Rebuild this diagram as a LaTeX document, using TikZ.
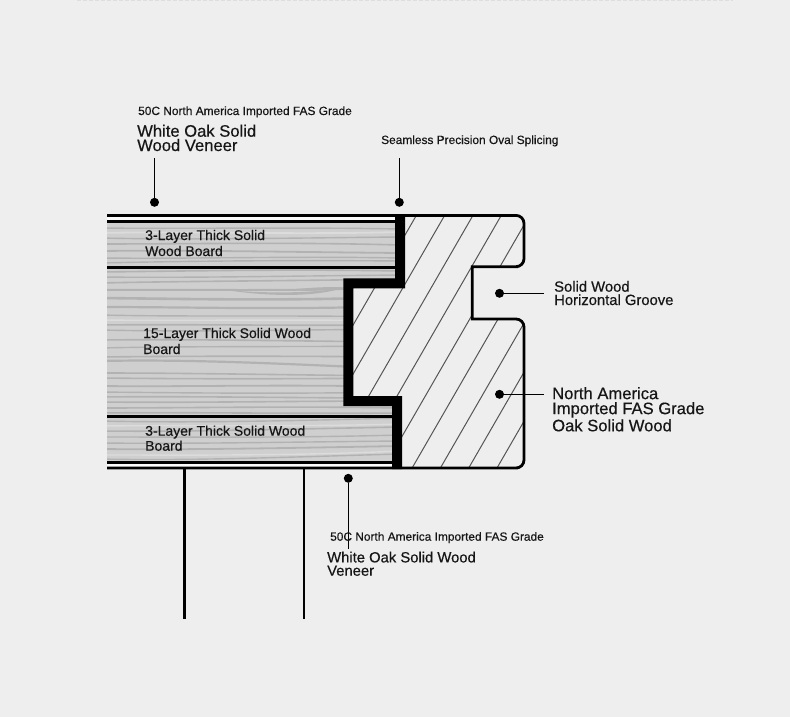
\documentclass[tikz,border=0pt]{standalone}
\usepackage{fontspec}
\setmainfont[FakeBold=0.4]{Liberation Sans}
\definecolor{bgc}{HTML}{EEEEEE}
\definecolor{woodc}{HTML}{CFCFCF}
\definecolor{graind}{HTML}{B2B2B2}
\definecolor{grainl}{HTML}{DCDCDC}
\definecolor{ink}{HTML}{161616}
\definecolor{hatchc}{HTML}{555555}
\tikzset{
  label base/.style={anchor=base west,inner sep=0pt,text=ink,align=left},
  small label/.style={label base,font=\fontsize{11.9}{13}\selectfont},
  mid label/.style={label base,font=\fontsize{14}{16}\selectfont},
  big label/.style={label base,font=\fontsize{16.6}{14.3}\selectfont},
  side label/.style={label base,font=\fontsize{14.8}{13.3}\selectfont},
  dotmark/.style={circle,fill=black,inner sep=0pt,minimum size=9pt},
  leader/.style={draw=black,line width=1pt},
  outline/.style={draw=black,line width=2.8pt},
  layerline/.style={draw=black,line width=3pt},
  hatchline/.style={draw=hatchc,line width=1pt},
}
\newcommand{\grainset}[1]{\foreach \y/\a/\b/\e/\w/\c in {#1}{%
  \draw[draw=\c,line width=\w pt] (100,\y) .. controls (190,\y+\a) and (290,\y+\b) .. (400,\y+\e);}}
\begin{document}
\begin{tikzpicture}[x=1pt,y=-1pt]
\useasboundingbox (0,0) rectangle (790,717);
\fill[bgc] (0,0) rectangle (790,717);
\draw[draw=black!13,line width=1.5pt,dash pattern=on 4pt off 2pt] (77,0.5) -- (733,0.5);
% gaps
\fill[white!70!bgc] (107,216) rectangle (396,221);
\fill[white!70!bgc] (107,463) rectangle (393,467);
% wood
\begin{scope}
\clip (107,222) -- (395,222) -- (395,279) -- (344,279) -- (344,405) -- (392,405) -- (392,464) -- (107,464) -- cycle;
\fill[woodc] (107,222) rectangle (396,464);
\grainset{228/1/-1/1/1.4/graind, 233/-2/2/-1/1.8/grainl, 238/2/0/-1/1.4/graind, 244/0/-2/1/1.6/graind,
 251/-1/1/2/1.8/graind, 258/1/-2/0/1.4/graind, 263/-2/-3/-2/1.4/graind,
 272/-1/-3/-1/1.6/graind, 277/1/-1/-2/1.4/graind, 283/-2/-2/-4/1.6/graind, 290/-1/2/-3/2/graind,
 298/1/3/-1/2.6/graind, 307/0/3/-1/2.2/graind, 315/2/0/2/1.4/graind,
 320/1/-1/1/1.4/grainl, 325/-1/1/0/1.6/graind, 330/2/0/-1/1.4/graind,
 340/-1/1/2/1.6/graind, 348/-2/-1/-2/1.4/graind, 357/-1/-1/0/1.6/graind, 361/-2/3/8/2.2/graind,
 373/0/2/3/1.6/graind, 378/1/1/0/1.6/graind, 386/1/-2/1/1.8/graind,
 392/1/2/0/1.4/graind, 397/-1/1/1/1.6/graind, 402/1/-1/-1/1.6/graind, 408/0/-2/0/1.6/graind,
 413/-1/1/0/1.6/graind,
 421/2/0/-3/1.4/graind, 426/-1/1/-2/1.4/grainl, 431/1/-2/-4/1.6/graind, 437/0/1/-2/1.4/graind,
 443/1/-1/-2/1.4/graind, 449/1/-1/-3/1.8/graind, 455/0/1/-4/1.4/grainl, 459/2/-2/-5/1.4/graind}
\fill[graind] (226,290) .. controls (270,297) and (320,297) .. (345,287) .. controls (320,293) and (270,294) .. (226,290) -- cycle;
\fill[graind] (292,290) .. controls (310,292) and (330,290) .. (345,287) .. controls (330,287) and (310,287) .. (292,290) -- cycle;
\end{scope}
% hatching
\begin{scope}
\clip (405,216) -- (510,216) [rounded corners=8pt] -- (524,216) -- (524,267) -- (510,267) [sharp corners] -- (472.3,267) -- (472.3,319) -- (510,319) [rounded corners=8pt] -- (524,319) -- (524,468) -- (510,468) [sharp corners] -- (402,468) -- (402,396) -- (353,396) -- (353,288) -- (405,288) -- cycle;
\foreach \k in {0,...,8}{
  \draw[hatchline] ({416+28.3*\k},216) -- ({416+28.3*\k-145.4},468);
}
\end{scope}
% structural lines
\draw[outline] (107,215.4) -- (510,215.4) [rounded corners=8pt] -- (524,215.4) -- (524,266.7) -- (510,266.7) [sharp corners] -- (472.3,266.7) -- (472.3,319) -- (510,319) [rounded corners=8pt] -- (524,319) -- (524,468) -- (510,468) [sharp corners] -- (107,468);
\draw[layerline] (107,221.3) -- (396,221.3);
\draw[layerline] (107,267.5) -- (396,267.5);
\draw[layerline] (107,416.6) -- (393,416.6);
\draw[layerline] (107,462.5) -- (393,462.5);
\fill[black] (395,214) -- (405,214) -- (405,288.3) -- (353.3,288.3) -- (353.3,396) -- (402,396) -- (402,469) -- (392,469) -- (392,406) -- (343.3,406) -- (343.3,278.3) -- (395,278.3) -- cycle;
\draw[outline] (184.3,468) -- (184.3,619);
\draw[outline] (304,468) -- (304,619);
% dots and leaders
\node[dotmark] (d1) at (154.5,202.3) {};
\coordinate (e1) at (154.5,158);
\draw[leader] (d1) -- (e1);
\node[dotmark] (d2) at (399.3,202.3) {};
\coordinate (e2) at (399.3,158);
\draw[leader] (d2) -- (e2);
\node[dotmark] (d3) at (499.5,293.3) {};
\coordinate (e3) at (544,293.3);
\draw[leader] (d3) -- (e3);
\node[dotmark] (d4) at (499.5,394.3) {};
\coordinate (e4) at (544,394.3);
\draw[leader] (d4) -- (e4);
\node[dotmark] (d5) at (348.3,478.3) {};
\coordinate (e5) at (348.3,549);
\draw[leader] (d5) -- (e5);
% labels
\node[small label] (t1) at (138,115) {50C North America Imported FAS Grade};
\node[big label] (t2) at (137,151) {White Oak Solid\\Wood Veneer};
\node[small label] (t3) at (381,144) {Seamless Precision Oval Splicing};
\node[mid label] (t4) at (145,256) {3-Layer Thick Solid\\Wood Board};
\node[mid label] (t5) at (143,354) {15-Layer Thick Solid Wood\\Board};
\node[mid label] (t6) at (145,450.7) {3-Layer Thick Solid Wood\\[-1pt]Board};
\node[side label] (t7) at (554,305) {Solid Wood\\Horizontal Groove};
\node[big label] (t8) at (552,431.3) {North America\\[0.7pt]Imported FAS Grade\\[0.7pt]Oak Solid Wood};
\node[small label] (t9) at (330,540.7) {50C North America Imported FAS Grade};
\node[side label] (t10) at (327,575.7) {White Oak Solid Wood\\Veneer};
\end{tikzpicture}
\end{document}
